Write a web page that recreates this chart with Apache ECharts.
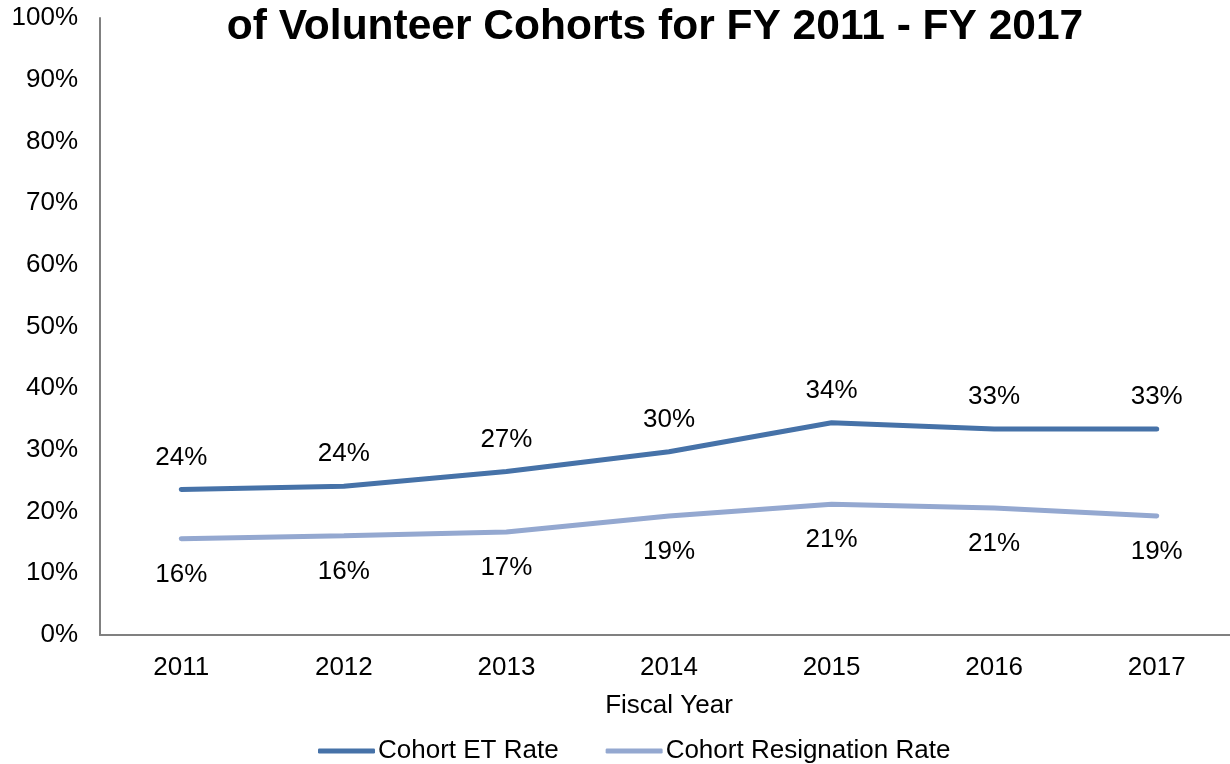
<!DOCTYPE html>
<html>
<head>
<meta charset="utf-8">
<script src="https://cdn.jsdelivr.net/npm/echarts@6/dist/echarts.min.js"></script>
<style>
  html, body { margin: 0; padding: 0; background: #fff; overflow: hidden; }
  #main { width: 1238px; height: 764px; }
</style>
</head>
<body>
<div id="main"></div>
<script>
var years = ['2011', '2012', '2013', '2014', '2015', '2016', '2017'];
var etRate = [23.6, 24.1, 26.5, 29.7, 34.4, 33.4, 33.4];
var resignRate = [15.6, 16.1, 16.7, 19.3, 21.2, 20.6, 19.3];
var etLabels = ['24%', '24%', '27%', '30%', '34%', '33%', '33%'];
var resignLabels = ['16%', '16%', '17%', '19%', '21%', '21%', '19%'];

var font = '"Liberation Sans", Arial, sans-serif';
var chart = echarts.init(document.getElementById('main'));

chart.setOption({
	animation: false,
	textStyle: { fontFamily: font },
	title: {
		text: 'of Volunteer Cohorts for FY 2011 - FY 2017',
		left: 650,
		textAlign: 'center',
		top: 1,
		textStyle: { fontFamily: font, fontSize: 42.5, fontWeight: 'bold', color: '#000' }
	},
	legend: {
		top: 733,
		left: 313,
		itemGap: 47,
		itemWidth: 57,
		itemHeight: 5,
		icon: 'roundRect',
		textStyle: { fontFamily: font, fontSize: 26, color: '#000', padding: [0, 0, 0, -2] },
		data: ['Cohort ET Rate', 'Cohort Resignation Rate']
	},
	grid: { left: 100, right: 0, top: 18, bottom: 129 },
	xAxis: {
		type: 'category',
		data: years,
		name: 'Fiscal Year',
		nameLocation: 'middle',
		nameGap: 58,
		nameTextStyle: { fontFamily: font, fontSize: 26, color: '#000' },
		axisLine: { lineStyle: { color: '#808080', width: 2 } },
		axisTick: { show: false },
		axisLabel: { fontFamily: font, fontSize: 26, color: '#000', margin: 20 }
	},
	yAxis: {
		type: 'value',
		min: 0,
		max: 100,
		interval: 10,
		axisLine: { show: true, lineStyle: { color: '#808080', width: 2 } },
		axisTick: { show: false },
		splitLine: { show: false },
		axisLabel: { fontFamily: font, fontSize: 26, color: '#000', margin: 22, formatter: '{value}%' }
	},
	series: [{
		name: 'Cohort ET Rate',
		type: 'line',
		data: etRate,
		symbol: 'circle',
		symbolSize: 0,
		showSymbol: true,
		color: '#4672A8',
		lineStyle: { width: 5, color: '#4672A8', cap: 'round' },
		label: {
			show: true,
			position: 'top',
			distance: 19,
			fontFamily: font,
			fontSize: 26,
			color: '#000',
			formatter: function(p) { return etLabels[p.dataIndex]; }
		}
	}, {
		name: 'Cohort Resignation Rate',
		type: 'line',
		data: resignRate,
		symbol: 'circle',
		symbolSize: 0,
		showSymbol: true,
		color: '#94A8D0',
		lineStyle: { width: 5, color: '#94A8D0', cap: 'round' },
		label: {
			show: true,
			position: 'bottom',
			distance: 23,
			fontFamily: font,
			fontSize: 26,
			color: '#000',
			formatter: function(p) { return resignLabels[p.dataIndex]; }
		}
	}]
});
</script>
</body>
</html>
